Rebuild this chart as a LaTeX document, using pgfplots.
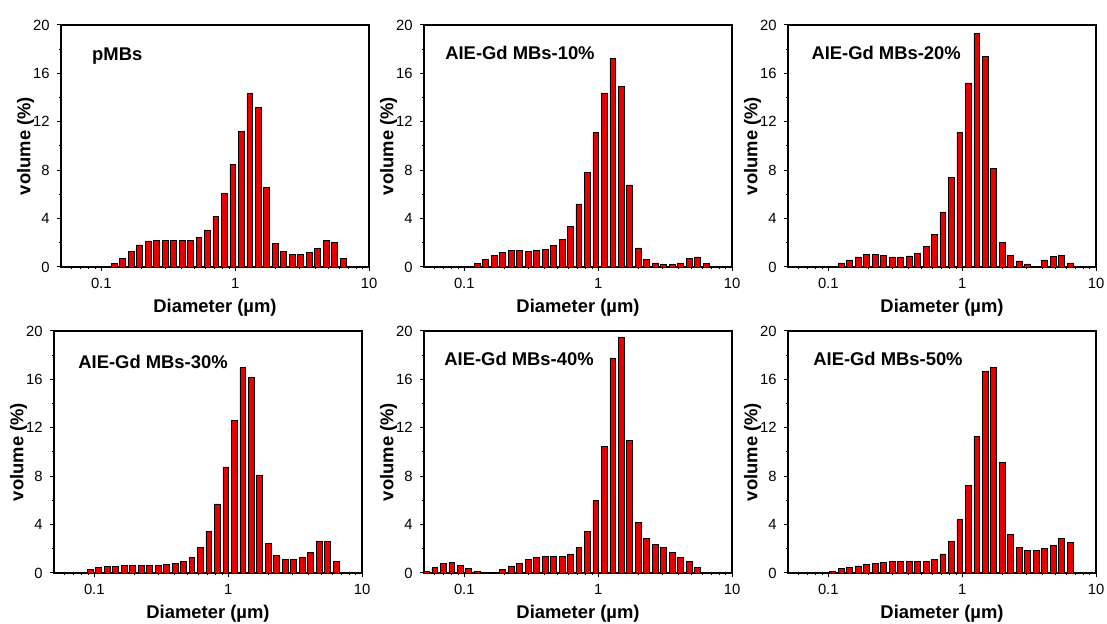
\documentclass[border=0pt]{standalone}
\usepackage{pgfplots}
\pgfplotsset{compat=1.18}
\usepackage{fontspec}
\setmainfont{Liberation Sans}
\definecolor{barred}{RGB}{232,0,0}

\pgfplotsset{
  every axis/.append style={
    scale only axis, width=154pt, height=121pt,
    xmin=0.05, xmax=10, ymin=0, ymax=20,
    xtick={0.1,1,10}, xticklabels={0.1,1,10},
    minor xtick={0.06,0.07,0.08,0.09,0.2,0.3,0.4,0.5,0.6,0.7,0.8,0.9,2,3,4,5,6,7,8,9},
    ytick={0,4,8,12,16,20}, yticklabels={0,4,8,12,16,20},
    minor ytick={2,6,10,14,18},
    tick align=outside, xtick pos=left, ytick pos=left,
    major tick length=2.2pt, minor tick length=1.2pt,
    axis line style={line width=0.7pt},
    tick style={black, line width=0.5pt},
    tick label style={font=\fontsize{7.4}{8}\selectfont},
    xlabel={Diameter (µm)}, ylabel={volume (\%)},
    label style={font=\fontsize{9.2}{10}\selectfont\bfseries},
    xlabel style={at={(axis description cs:0.5,-0.168)}, anchor=center},
    ylabel style={at={(axis description cs:-0.115,0.5)}, anchor=center},
  },
}
\tikzset{ttl/.style={anchor=west, inner sep=0pt, font=\fontsize{9.2}{10}\selectfont\bfseries},
  bars/.style={ybar, bar width=2.9pt, bar shift=0pt, fill=barred, draw=black, line width=0.35pt}}

\begin{document}
\begin{tikzpicture}
\useasboundingbox (0,0) rectangle (553.5pt,312pt);

% pMBs
\begin{semilogxaxis}[at={(30.5pt,178.5pt)}, anchor=south west]
\addplot[bars] coordinates {
(0.1248,0.28) (0.1444,0.72) (0.1671,1.27) (0.1933,1.82) (0.2237,2.15) (0.2588,2.23)
(0.2994,2.23) (0.3464,2.18) (0.4008,2.18) (0.4637,2.23) (0.5365,2.45) (0.6207,3.06)
(0.7178,4.21) (0.8305,6.06) (0.9607,8.46) (1.1115,11.18) (1.2860,14.33) (1.4878,13.22)
(1.7214,6.56) (1.9915,1.96) (2.3041,1.27) (2.6658,1.07) (3.0832,1.07) (3.5670,1.21)
(4.1275,1.54) (4.7753,2.18) (5.5249,2.01) (6.3916,0.72)};
\node[ttl] at (rel axis cs:0.10,0.87) {pMBs};
\end{semilogxaxis}

% 10%
\begin{semilogxaxis}[at={(212pt,178.5pt)}, anchor=south west]
\addplot[bars] coordinates {
(0.1079,0.08) (0.1248,0.28) (0.1444,0.66) (0.1671,0.96) (0.1933,1.21) (0.2237,1.35)
(0.2588,1.35) (0.2994,1.29) (0.3464,1.35) (0.4008,1.46) (0.4637,1.76) (0.5365,2.29)
(0.6207,3.33) (0.7178,5.21) (0.8305,7.80) (0.9607,11.10) (1.1115,14.38) (1.2860,17.22)
(1.4878,14.90) (1.7214,6.78) (1.9915,1.57) (2.3041,0.63) (2.6658,0.33) (3.0832,0.19)
(3.5670,0.19) (4.1275,0.33) (4.7753,0.69) (5.5249,0.83) (6.3916,0.30)};
\node[ttl] at (rel axis cs:0.068,0.884) {AIE-Gd MBs-10\%};
\end{semilogxaxis}

% 20%
\begin{semilogxaxis}[at={(394pt,178.5pt)}, anchor=south west]
\addplot[bars] coordinates {
(0.1079,0.08) (0.1248,0.33) (0.1444,0.58) (0.1671,0.83) (0.1933,1.02) (0.2237,1.07)
(0.2588,0.96) (0.2994,0.83) (0.3464,0.83) (0.4008,0.91) (0.4637,1.13) (0.5365,1.71)
(0.6207,2.70) (0.7178,4.55) (0.8305,7.41) (0.9607,11.13) (1.1115,15.21) (1.2860,19.31)
(1.4878,17.38) (1.7214,8.15) (1.9915,2.01) (2.3041,0.96) (2.6658,0.50) (3.0832,0.25)
(3.5670,0.08) (4.1275,0.58) (4.7753,0.88) (5.5249,0.94) (6.3916,0.33)};
\node[ttl] at (rel axis cs:0.075,0.884) {AIE-Gd MBs-20\%};
\end{semilogxaxis}

% 30%
\begin{semilogxaxis}[at={(27pt,25.5pt)}, anchor=south west]
\addplot[bars] coordinates {
(0.0806,0.05) (0.0933,0.30) (0.1079,0.49) (0.1248,0.55) (0.1444,0.55) (0.1671,0.60)
(0.1933,0.60) (0.2237,0.63) (0.2588,0.60) (0.2994,0.63) (0.3464,0.69) (0.4008,0.80)
(0.4637,0.99) (0.5365,1.32) (0.6207,2.12) (0.7178,3.46) (0.8305,5.71) (0.9607,8.76)
(1.1115,12.64) (1.2860,16.98) (1.4878,16.15) (1.7214,8.10) (1.9915,2.42) (2.3041,1.43)
(2.6658,1.15) (3.0832,1.10) (3.5670,1.26) (4.1275,1.68) (4.7753,2.64) (5.5249,2.64)
(6.3916,0.99)};
\node[ttl] at (rel axis cs:0.078,0.872) {AIE-Gd MBs-30\%};
\end{semilogxaxis}

% 40%
\begin{semilogxaxis}[at={(212pt,25.5pt)}, anchor=south west]
\addplot[bars] coordinates {
(0.0521,0.11) (0.0602,0.47) (0.0697,0.82) (0.0806,0.88) (0.0933,0.63) (0.1079,0.36)
(0.1248,0.11) (0.1444,0.05) (0.1671,0.05) (0.1933,0.30) (0.2237,0.58) (0.2588,0.82)
(0.2994,1.10) (0.3464,1.26) (0.4008,1.40) (0.4637,1.40) (0.5365,1.40) (0.6207,1.57)
(0.7178,2.09) (0.8305,3.41) (0.9607,5.99) (1.1115,10.49) (1.2860,17.77) (1.4878,19.50)
(1.7214,10.99) (1.9915,4.15) (2.3041,2.88) (2.6658,2.39) (3.0832,2.09) (3.5670,1.70)
(4.1275,1.32) (4.7753,0.93) (5.5249,0.47) (6.3916,0.08)};
\node[ttl] at (rel axis cs:0.065,0.884) {AIE-Gd MBs-40\%};
\end{semilogxaxis}

% 50%
\begin{semilogxaxis}[at={(394pt,25.5pt)}, anchor=south west]
\addplot[bars] coordinates {
(0.0933,0.05) (0.1079,0.16) (0.1248,0.38) (0.1444,0.49) (0.1671,0.58) (0.1933,0.69)
(0.2237,0.82) (0.2588,0.88) (0.2994,0.93) (0.3464,0.93) (0.4008,0.93) (0.4637,0.93)
(0.5365,0.93) (0.6207,1.13) (0.7178,1.57) (0.8305,2.58) (0.9607,4.40) (1.1115,7.23)
(1.2860,11.29) (1.4878,16.68) (1.7214,16.98) (1.9915,9.12) (2.3041,3.19) (2.6658,2.14)
(3.0832,1.90) (3.5670,1.90) (4.1275,2.03) (4.7753,2.25) (5.5249,2.88) (6.3916,2.50)};
\node[ttl] at (rel axis cs:0.081,0.884) {AIE-Gd MBs-50\%};
\end{semilogxaxis}
\end{tikzpicture}
\end{document}
